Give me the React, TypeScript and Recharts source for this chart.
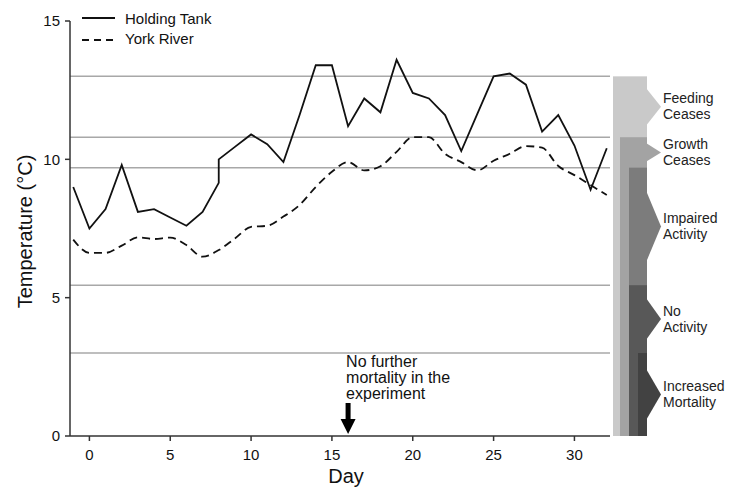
import {
  LineChart,
  Line,
  XAxis,
  YAxis,
  ReferenceLine,
  ReferenceArea,
  ReferenceDot,
  Legend,
} from 'recharts';

// Daily water temperature (°C)
const holdingDays = [-1, 0, 1, 2, 3, 4, 5, 6, 7, 8, 8, 9, 10, 11, 12, 13, 14, 15, 16, 17, 18, 19, 20, 21, 22, 23, 24, 25, 26, 27, 28, 29, 30, 31, 32];
const holdingTank = [9.0, 7.5, 8.2, 9.8, 8.1, 8.2, 7.9, 7.6, 8.1, 9.15, 10.0, 10.45, 10.9, 10.55, 9.9, 11.6, 13.4, 13.4, 11.2, 12.2, 11.7, 13.6, 12.4, 12.2, 11.6, 10.3, 11.65, 13.0, 13.1, 12.7, 11.0, 11.6, 10.5, 8.9, 10.4];

const riverDays = [-1, 0, 1, 2, 3, 4, 5, 6, 7, 8, 9, 10, 11, 12, 13, 14, 15, 16, 17, 18, 19, 20, 21, 22, 23, 24, 25, 26, 27, 28, 29, 30, 31, 32];
const yorkRiver = [7.1, 6.62, 6.62, 6.88, 7.18, 7.12, 7.17, 6.9, 6.48, 6.72, 7.14, 7.56, 7.6, 7.93, 8.35, 9.0, 9.55, 9.9, 9.6, 9.75, 10.27, 10.8, 10.8, 10.2, 9.9, 9.6, 9.95, 10.2, 10.48, 10.42, 9.76, 9.43, 9.07, 8.71];

const dayTicks = [0, 5, 10, 15, 20, 25, 30];
const tempTicks = [0, 5, 10, 15];

// Behavioural thresholds, warmest first
const thresholds = [13.0, 10.8, 9.7, 5.45, 3.0];
const responses = [
  ['Feeding', 'Ceases'],
  ['Growth', 'Ceases'],
  ['Impaired', 'Activity'],
  ['No', 'Activity'],
  ['Increased', 'Mortality'],
];

const noteDay = 16;
const noteLines = ['No further', 'mortality in the', 'experiment'];

const FONT = '"Liberation Sans", Arial, Helvetica, sans-serif';
const BAND_FILLS = ['#c9c9c9', '#a3a3a3', '#7c7c7c', '#585858', '#424242'];
const BAND_INSETS = [3, 10, 19, 19, 28];
const BAND_RIGHT = 37;

const holdingData = holdingDays.map((day, i) => ({ day, temp: holdingTank[i] }));
const riverData = riverDays.map((day, i) => ({ day, temp: yorkRiver[i] }));

const columnShape = (i: number) => (props: any) => {
  const { x, y, width, height } = props;
  const left = x + width + BAND_INSETS[i];
  const right = x + width + BAND_RIGHT;
  return <rect x={left} y={y} width={right - left} height={height} fill={BAND_FILLS[i]} />;
};

const chevronShape = (i: number) => (props: any) => {
  const { x, y, width, height } = props;
  const edge = x + width + BAND_RIGHT;
  const cy = y + height / 2;
  const half = Math.min(height * 0.31, 36);
  const [first, second] = responses[i];
  return (
    <g>
      <polygon
        points={`${edge - 1},${cy - half} ${edge + 14},${cy} ${edge - 1},${cy + half}`}
        fill={BAND_FILLS[i]}
      />
      <text x={edge + 16} y={cy - 3.5} fontSize={14} fill="#222" fontFamily={FONT}>
        {first}
      </text>
      <text x={edge + 16} y={cy + 12.5} fontSize={14} fill="#222" fontFamily={FONT}>
        {second}
      </text>
    </g>
  );
};

const NoteArrow = (props: any) => {
  const { cx, cy } = props;
  const tip = cy - 2;
  return (
    <g>
      <polygon
        points={`${cx - 2.5},${tip - 31} ${cx + 2.5},${tip - 31} ${cx + 2.5},${tip - 15} ${cx + 7.5},${tip - 15} ${cx},${tip} ${cx - 7.5},${tip - 15} ${cx - 2.5},${tip - 15}`}
        fill="#000"
      />
      {noteLines.map((line, k) => (
        <text key={line} x={cx - 2} y={cy - 69 + k * 16} fontSize={16} fill="#111" fontFamily={FONT}>
          {line}
        </text>
      ))}
    </g>
  );
};

const LegendBox = () => (
  <svg width={170} height={44} style={{ display: 'block' }}>
    <line x1={2} y1={12} x2={35} y2={12} stroke="#111" strokeWidth={1.8} />
    <text x={45} y={17.5} fontSize={15} fill="#111" fontFamily={FONT}>
      Holding Tank
    </text>
    <line x1={2} y1={34} x2={35} y2={34} stroke="#111" strokeWidth={1.8} strokeDasharray="7 5" />
    <text x={45} y={37.5} fontSize={15} fill="#111" fontFamily={FONT}>
      York River
    </text>
  </svg>
);

export default function App() {
  return (
    <div style={{ position: 'absolute', left: 0, top: 0, fontFamily: FONT, background: '#fff' }}>
      <LineChart width={742} height={489} margin={{ top: 21, right: 132, bottom: 23, left: 0 }}>
        <XAxis
          dataKey="day"
          type="number"
          domain={[-1.2, 32.2]}
          ticks={dayTicks}
          allowDataOverflow
          height={30}
          tickSize={5}
          tickMargin={8}
          stroke="#333"
          strokeWidth={1.5}
          tick={{ fontSize: 15, fill: '#111' }}
          label={({ viewBox }: any) => (
            <text
              x={viewBox.x + viewBox.width / 2 + 6}
              y={483}
              textAnchor="middle"
              fontSize={20}
              fill="#111"
              fontFamily={FONT}
            >
              Day
            </text>
          )}
        />
        <YAxis
          type="number"
          domain={[0, 15]}
          ticks={tempTicks}
          width={70}
          tickSize={5}
          tickMargin={5}
          stroke="#333"
          strokeWidth={1.5}
          tick={{ fontSize: 15, fill: '#111' }}
          label={({ viewBox }: any) => {
            const cx = viewBox.x + 25;
            const cy = viewBox.y + viewBox.height / 2 + 3;
            return (
              <text
                x={cx}
                y={cy}
                transform={`rotate(-90, ${cx}, ${cy})`}
                textAnchor="middle"
                dominantBaseline="central"
                fontSize={20}
                fill="#111"
                fontFamily={FONT}
              >
                Temperature (°C)
              </text>
            );
          }}
        />
        {thresholds.map((t) => (
          <ReferenceLine key={`t-${t}`} y={t} stroke="#a8a8a8" strokeWidth={1.5} />
        ))}
        {thresholds.flatMap((top, i) => {
          const next = i + 1 < thresholds.length ? thresholds[i + 1] : 0;
          return [
            <ReferenceArea key={`col-${i}`} y1={0} y2={top} ifOverflow="visible" shape={columnShape(i)} />,
            <ReferenceArea key={`chev-${i}`} y1={next} y2={top} ifOverflow="visible" shape={chevronShape(i)} />,
          ];
        })}
        <Line
          data={riverData}
          dataKey="temp"
          type="monotone"
          stroke="#111"
          strokeWidth={1.8}
          strokeDasharray="8 5"
          dot={false}
          activeDot={false}
          isAnimationActive={false}
        />
        <Line
          data={holdingData}
          dataKey="temp"
          type="linear"
          stroke="#111"
          strokeWidth={1.8}
          dot={false}
          activeDot={false}
          isAnimationActive={false}
        />
        <ReferenceDot x={noteDay} y={0} ifOverflow="visible" shape={NoteArrow} />
        <Legend
          layout="horizontal"
          verticalAlign="middle"
          align="center"
          content={() => <LegendBox />}
          wrapperStyle={{ top: 6, left: 80, width: 170, height: 44 }}
        />
      </LineChart>
    </div>
  );
}
